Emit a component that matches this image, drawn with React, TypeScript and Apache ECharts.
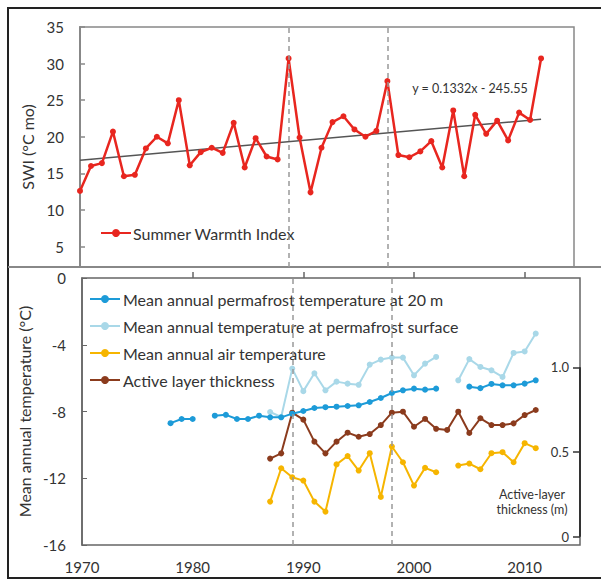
import React, { useEffect, useRef } from 'react';
import * as echarts from 'echarts';

const FONT = 'Lato, "Open Sans", sans-serif';

// Summer Warmth Index, 1970-2012
const swiYears = [
  1970, 1971, 1972, 1973, 1974, 1975, 1976, 1977, 1978, 1979,
  1980, 1981, 1982, 1983, 1984, 1985, 1986, 1987, 1988, 1989,
  1990, 1991, 1992, 1993, 1994, 1995, 1996, 1997, 1998, 1999,
  2000, 2001, 2002, 2003, 2004, 2005, 2006, 2007, 2008, 2009,
  2010, 2011, 2012,
];
const swiValues = [
  12.6, 16.0, 16.4, 20.7, 14.6, 14.8, 18.4, 20.0, 19.1, 25.0,
  16.1, 17.9, 18.5, 17.8, 21.9, 15.8, 19.8, 17.3, 16.9, 30.7,
  19.9, 12.4, 18.5, 22.0, 22.8, 21.0, 20.0, 20.8, 27.6, 17.5,
  17.2, 18.0, 19.4, 15.8, 23.6, 14.6, 23.0, 20.4, 22.2, 19.5,
  23.3, 22.3, 30.7,
];
// Linear trend (y = 0.1332x - 245.55), end points as read
const trendYears = [1970, 2012];
const trendValues = [16.8, 22.4];

// Bottom panel, 1978-2011
const tempYears = [
  1978, 1979, 1980, 1981, 1982, 1983, 1984, 1985, 1986, 1987,
  1988, 1989, 1990, 1991, 1992, 1993, 1994, 1995, 1996, 1997,
  1998, 1999, 2000, 2001, 2002, 2003, 2004, 2005, 2006, 2007,
  2008, 2009, 2010, 2011,
];
const permafrost20m = [
  -8.7, -8.45, -8.45, null, -8.25, -8.2, -8.45, -8.45, -8.25, -8.35,
  -8.35, -8.13, -7.97, -7.79, -7.74, -7.71, -7.67, -7.63, -7.43, -7.19,
  -6.89, -6.73, -6.63, -6.69, -6.63, null, null, -6.51, -6.6, -6.35,
  -6.43, -6.43, -6.33, -6.13,
];
const permafrostSurface = [
  null, null, null, null, null, null, null, null, null, -8.03,
  -8.33, -5.43, -6.78, -5.71, -6.73, -6.21, -6.33, -6.4, -5.19, -4.89,
  -4.77, -4.77, -5.83, -5.13, -4.73, null, -6.13, -4.86, -5.33, -5.53,
  -5.93, -4.49, -4.4, -3.33,
];
const airTemp = [
  null, null, null, null, null, null, null, null, null, -13.4,
  -11.4, -11.94, -12.14, -13.4, -14.0, -11.17, -10.67, -11.54, -10.5, -13.12,
  -10.1, -11.04, -12.44, -11.38, -11.64, null, -11.24, -11.12, -11.46, -10.5,
  -10.44, -11.04, -9.9, -10.2,
];
const activeLayer = [
  null, null, null, null, null, null, null, null, null, 0.461,
  0.492, 0.732, 0.691, 0.561, 0.492, 0.561, 0.614, 0.59, 0.606, 0.659,
  0.732, 0.738, 0.649, 0.695, 0.637, 0.63, 0.738, 0.612, 0.699, 0.659,
  0.659, 0.669, 0.718, 0.748,
];

const eventYears = [1989, 1998];
const yearLabels = [1970, 1980, 1990, 2000, 2010];
const yearTicks = [1980, 1990, 2000, 2010];
const swiTicks = [5, 10, 15, 20, 25, 30, 35];
const altTicks = [0, 0.5, 1.0];
const altAxisSpan = [0, 1.0];

const C_RED = '#e8261f';
const C_BLUE = '#1d9bd8';
const C_LIGHT = '#a9d8e8';
const C_GOLD = '#f6b500';
const C_BROWN = '#8b3b1d';

const pair = (xs: number[], ys: (number | null)[]) => xs.map((x, i) => [x, ys[i]]);

export default function App() {
  const ref = useRef<HTMLDivElement>(null);
  useEffect(() => {
    const chart = echarts.init(ref.current!, null, { renderer: 'svg' });
    const dashed = {
      silent: true,
      symbol: 'none',
      label: { show: false },
      lineStyle: { color: '#999', width: 1.5, type: [5, 4] },
      data: eventYears.map((y) => ({ xAxis: y })),
    };
    const option: any = {
      animation: false,
      backgroundColor: '#fff',
      textStyle: { fontFamily: FONT },
      grid: [
        { left: 80, right: 27, top: 27, bottom: 313, show: true, borderColor: '#888', borderWidth: 1.5 },
        { left: 82, right: 21, top: 278, bottom: 35, show: true, borderColor: '#666', borderWidth: 1.5 },
      ],
      xAxis: [
        {
          gridIndex: 0, type: 'value', min: 1970, max: 2015,
          axisLine: { show: false }, axisTick: { show: false }, axisLabel: { show: false }, splitLine: { show: false },
        },
        {
          gridIndex: 1, type: 'value', min: 1970, max: 2015,
          axisLine: { show: false },
          axisTick: { show: true, inside: true, length: 6, customValues: yearTicks, lineStyle: { color: '#666', width: 1.5 } },
          axisLabel: {
            customValues: yearLabels, color: '#333', fontSize: 15, fontFamily: FONT, margin: 14,
            formatter: (v: number) => String(v),
          },
          splitLine: { show: false },
        },
      ],
      yAxis: [
        {
          gridIndex: 0, type: 'value', min: 2.2, max: 35,
          name: 'SWI (°C mo)', nameLocation: 'middle', nameGap: 38,
          nameTextStyle: { color: '#333', fontSize: 16, fontFamily: FONT },
          axisLine: { show: true, lineStyle: { color: '#888', width: 2 } },
          axisTick: { show: true, inside: true, length: 5, customValues: swiTicks, lineStyle: { color: '#888', width: 1.5 } },
          axisLabel: { customValues: swiTicks, color: '#333', fontSize: 15, fontFamily: FONT, margin: 16 },
          splitLine: { show: false },
        },
        {
          gridIndex: 1, type: 'value', min: -16, max: 0, interval: 4,
          name: 'Mean annual temperature (°C)', nameLocation: 'middle', nameGap: 40,
          nameTextStyle: { color: '#333', fontSize: 16, fontFamily: FONT },
          axisLine: { show: true, lineStyle: { color: '#666', width: 1.5 } },
          axisTick: { show: true, inside: true, length: 5, lineStyle: { color: '#666' } },
          axisLabel: { color: '#333', fontSize: 15, fontFamily: FONT, margin: 16 },
          splitLine: { show: false },
        },
        {
          gridIndex: 1, type: 'value', position: 'right', min: -0.049, max: 1.527,
          axisLine: { show: false },
          axisTick: { show: true, inside: true, length: 7, customValues: altTicks, lineStyle: { color: '#333', width: 1.5 } },
          axisLabel: {
            inside: true, customValues: altTicks, color: '#333', fontSize: 13, fontFamily: FONT, margin: 11,
            formatter: (v: number) => (v === 0 ? '0' : v.toFixed(1)),
          },
          splitLine: { show: false },
        },
      ],
      legend: [
        {
          data: ['Summer Warmth Index'], left: 95, top: 220, itemWidth: 30, itemHeight: 10, itemGap: 4,
          textStyle: { color: '#333', fontSize: 16, fontFamily: FONT, padding: [0, 0, 0, -3] },
        },
        {
          data: [
            'Mean annual permafrost temperature at 20 m',
            'Mean annual temperature at permafrost surface',
            'Mean annual air temperature',
            'Active layer thickness',
          ],
          orient: 'vertical', left: 84, top: 286, itemWidth: 30, itemHeight: 10, itemGap: 11,
          textStyle: { color: '#333', fontSize: 16, fontFamily: FONT, padding: [0, 0, 0, -2] },
        },
      ],
      graphic: [
        { type: 'rect', shape: { x: 8, y: 8, width: 600, height: 570 }, style: { fill: 'none', stroke: '#222', lineWidth: 2 }, silent: true },
        { type: 'line', shape: { x1: 8, y1: 267, x2: 601, y2: 267 }, style: { stroke: '#888', lineWidth: 2 }, silent: true },
        { type: 'text', x: 470, y: 88, style: { text: 'y = 0.1332x - 245.55', fill: '#333', font: `12.5px ${FONT}`, align: 'center', verticalAlign: 'middle' }, silent: true },
        { type: 'text', x: 532, y: 494, style: { text: 'Active-layer', fill: '#333', font: `12.5px ${FONT}`, align: 'center', verticalAlign: 'middle' }, silent: true },
        { type: 'text', x: 532, y: 509, style: { text: 'thickness (m)', fill: '#333', font: `12.5px ${FONT}`, align: 'center', verticalAlign: 'middle' }, silent: true },
      ],
      series: [
        {
          name: 'trend', type: 'line', xAxisIndex: 0, yAxisIndex: 0, data: pair(trendYears, trendValues),
          symbol: 'none', lineStyle: { color: '#555', width: 1.5 }, itemStyle: { color: '#555' }, z: 1,
          markLine: dashed,
        },
        {
          name: 'Summer Warmth Index', type: 'line', xAxisIndex: 0, yAxisIndex: 0, data: pair(swiYears, swiValues),
          symbol: 'circle', symbolSize: 6, lineStyle: { color: C_RED, width: 2.5 }, itemStyle: { color: C_RED }, z: 3,
        },
        {
          name: 'Mean annual permafrost temperature at 20 m', type: 'line', xAxisIndex: 1, yAxisIndex: 1,
          data: pair(tempYears, permafrost20m), connectNulls: false,
          symbol: 'circle', symbolSize: 6, lineStyle: { color: C_BLUE, width: 2 }, itemStyle: { color: C_BLUE }, z: 4,
          markLine: dashed,
        },
        {
          name: 'Mean annual temperature at permafrost surface', type: 'line', xAxisIndex: 1, yAxisIndex: 1,
          data: pair(tempYears, permafrostSurface), connectNulls: false,
          symbol: 'circle', symbolSize: 6, lineStyle: { color: C_LIGHT, width: 2 }, itemStyle: { color: C_LIGHT }, z: 3,
        },
        {
          name: 'Mean annual air temperature', type: 'line', xAxisIndex: 1, yAxisIndex: 1,
          data: pair(tempYears, airTemp), connectNulls: false,
          symbol: 'circle', symbolSize: 6, lineStyle: { color: C_GOLD, width: 2 }, itemStyle: { color: C_GOLD }, z: 3,
        },
        {
          name: 'Active layer thickness', type: 'line', xAxisIndex: 1, yAxisIndex: 2,
          data: pair(tempYears, activeLayer), connectNulls: false,
          symbol: 'circle', symbolSize: 6, lineStyle: { color: C_BROWN, width: 2 }, itemStyle: { color: C_BROWN }, z: 3,
          markLine: {
            silent: true, symbol: 'none', label: { show: false },
            lineStyle: { color: '#333', width: 2, type: 'solid' },
            data: [[{ coord: [2015, altAxisSpan[0]] }, { coord: [2015, altAxisSpan[1]] }]],
          },
        },
      ],
    };
    chart.setOption(option);
    return () => chart.dispose();
  }, []);
  return (
    <div
      ref={ref}
      style={{ position: 'fixed', left: 0, top: 0, width: 601, height: 580, background: '#fff' }}
    />
  );
}
